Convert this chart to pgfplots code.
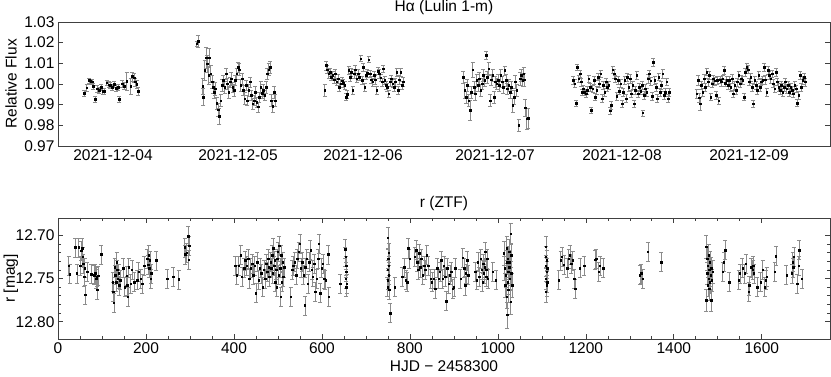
\documentclass[border=0pt]{standalone}
\usepackage{fontspec}
\setmainfont{Liberation Sans}
\usepackage{pgfplots}
\pgfplotsset{compat=1.18}
\usepackage{pgfplotstable}

% H-alpha, Lulin 1-m: x is a compressed time coordinate (one block per night)
\pgfplotstableread{
x y e
72 0.9956 0.0013
80 0.9982 0.0015
88 1.0018 0.0012
92 1.0013 0.0012
96 1.0010 0.0013
100 0.9990 0.0015
106 0.9927 0.0013
112 0.9977 0.0016
118 0.9970 0.0015
124 0.9985 0.0016
128 0.9966 0.0014
132 0.9965 0.0016
140 1.0006 0.0013
146 0.9997 0.0014
150 0.9994 0.0014
156 0.9985 0.0016
162 0.9998 0.0015
168 0.9980 0.0017
174 0.9985 0.0015
178 0.9926 0.0013
186 1.0002 0.0016
192 0.9990 0.0017
200 1.0013 0.0045
212 0.9990 0.0040
216 1.0037 0.0022
222 1.0030 0.0020
226 1.0010 0.0019
230 0.9998 0.0020
234 0.9966 0.0020
410 1.0195 0.0010
414 1.0208 0.0028
428 0.9989 0.0040
430 0.9937 0.0040
434 1.0066 0.0050
438 1.0127 0.0050
442 1.0098 0.0040
446 1.0042 0.0045
448 1.0127 0.0045
452 1.0050 0.0040
456 1.0010 0.0030
460 0.9985 0.0030
462 0.9960 0.0028
466 0.9977 0.0030
470 0.9908 0.0030
474 0.9876 0.0030
478 0.9844 0.0040
482 0.9920 0.0030
486 0.9994 0.0028
490 1.0018 0.0025
494 0.9985 0.0028
498 1.0050 0.0025
502 1.0002 0.0028
506 0.9960 0.0028
510 1.0010 0.0025
514 1.0026 0.0030
518 0.9985 0.0025
522 0.9970 0.0028
526 1.0018 0.0025
530 1.0050 0.0028
534 1.0082 0.0025
538 1.0070 0.0030
542 0.9994 0.0030
546 1.0026 0.0025
550 0.9970 0.0025
554 0.9930 0.0028
558 0.9994 0.0025
562 0.9920 0.0025
566 0.9970 0.0028
570 1.0010 0.0025
574 0.9945 0.0025
578 0.9905 0.0025
582 0.9920 0.0025
586 0.9960 0.0028
590 0.9913 0.0025
594 0.9889 0.0025
598 0.9937 0.0025
602 0.9985 0.0028
606 0.9956 0.0025
610 0.9970 0.0028
614 0.9945 0.0025
618 0.9985 0.0028
622 1.0050 0.0028
626 1.0070 0.0030
630 1.0082 0.0030
634 0.9920 0.0030
638 0.9892 0.0030
642 0.9960 0.0030
646 0.9920 0.0030
794 0.9969 0.0030
798 1.0090 0.0022
802 1.0070 0.0020
806 1.0050 0.0020
810 1.0058 0.0020
814 1.0034 0.0018
818 1.0042 0.0020
822 1.0021 0.0018
826 1.0050 0.0020
830 1.0010 0.0018
834 1.0026 0.0020
838 0.9985 0.0018
842 1.0002 0.0020
846 1.0015 0.0018
850 1.0005 0.0020
854 0.9994 0.0018
858 0.9937 0.0018
862 0.9950 0.0020
866 1.0066 0.0020
870 1.0034 0.0020
874 1.0058 0.0020
878 0.9970 0.0018
882 1.0050 0.0020
886 1.0070 0.0020
890 1.0026 0.0018
894 1.0050 0.0020
898 1.0034 0.0018
902 1.0123 0.0015
906 1.0018 0.0018
910 1.0082 0.0020
914 0.9985 0.0018
918 1.0042 0.0020
922 1.0053 0.0018
926 1.0118 0.0015
930 1.0050 0.0018
934 1.0021 0.0018
938 1.0010 0.0020
942 1.0042 0.0018
946 1.0021 0.0020
950 0.9970 0.0018
954 1.0063 0.0018
958 1.0050 0.0020
962 1.0030 0.0018
966 1.0010 0.0020
970 1.0074 0.0015
974 1.0018 0.0018
978 0.9994 0.0020
982 0.9985 0.0018
986 0.9953 0.0018
990 1.0010 0.0020
994 1.0026 0.0018
998 1.0002 0.0020
1002 0.9985 0.0018
1006 1.0010 0.0020
1010 1.0058 0.0020
1014 0.9970 0.0018
1018 1.0021 0.0020
1022 1.0058 0.0020
1026 0.9994 0.0020
1030 1.0010 0.0022
1210 1.0034 0.0030
1214 0.9970 0.0040
1218 0.9937 0.0030
1222 0.9994 0.0030
1226 0.9920 0.0030
1230 0.9873 0.0050
1234 0.9960 0.0030
1238 1.0070 0.0035
1242 0.9985 0.0030
1246 0.9953 0.0030
1250 1.0018 0.0030
1254 0.9994 0.0028
1258 1.0026 0.0030
1262 0.9970 0.0030
1266 1.0002 0.0028
1270 1.0042 0.0030
1274 1.0018 0.0028
1278 1.0139 0.0020
1282 1.0034 0.0028
1286 1.0074 0.0030
1290 0.9920 0.0030
1294 1.0021 0.0028
1298 1.0042 0.0030
1302 0.9937 0.0030
1306 1.0010 0.0028
1310 1.0002 0.0028
1314 1.0018 0.0028
1318 0.9994 0.0030
1322 1.0042 0.0028
1326 1.0010 0.0028
1330 0.9985 0.0030
1334 1.0066 0.0022
1338 1.0018 0.0028
1342 0.9977 0.0028
1346 0.9994 0.0030
1350 0.9960 0.0030
1354 0.9985 0.0030
1358 0.9897 0.0035
1362 0.9937 0.0035
1366 1.0010 0.0030
1370 0.9970 0.0030
1376 0.9800 0.0030
1380 1.0026 0.0030
1384 1.0042 0.0030
1388 1.0018 0.0030
1391 1.0050 0.0030
1393 1.0021 0.0030
1396 0.9886 0.0040
1400 0.9832 0.0050
1404 0.9835 0.0050
1540 1.0018 0.0018
1544 1.0002 0.0020
1548 0.9908 0.0015
1552 1.0082 0.0015
1556 1.0026 0.0018
1560 1.0050 0.0018
1564 1.0010 0.0020
1566 0.9960 0.0015
1570 0.9977 0.0018
1574 0.9960 0.0015
1578 0.9953 0.0015
1582 0.9970 0.0018
1586 1.0026 0.0018
1590 0.9985 0.0020
1594 0.9873 0.0015
1598 0.9977 0.0018
1602 1.0018 0.0020
1606 0.9937 0.0018
1610 0.9970 0.0020
1614 1.0034 0.0018
1618 1.0002 0.0020
1622 1.0050 0.0018
1626 0.9930 0.0018
1630 0.9994 0.0020
1634 0.9960 0.0018
1638 1.0010 0.0020
1642 0.9985 0.0018
1646 0.9994 0.0020
1650 0.9870 0.0018
1654 0.9897 0.0018
1658 1.0070 0.0018
1662 1.0050 0.0020
1666 1.0026 0.0018
1670 0.9940 0.0018
1674 1.0018 0.0020
1678 0.9966 0.0018
1682 1.0002 0.0020
1686 0.9905 0.0018
1690 0.9960 0.0020
1694 1.0018 0.0018
1698 0.9930 0.0018
1702 1.0034 0.0020
1706 0.9985 0.0018
1710 1.0026 0.0020
1714 0.9953 0.0018
1718 0.9994 0.0020
1722 0.9905 0.0018
1726 0.9970 0.0018
1730 1.0042 0.0020
1734 0.9953 0.0018
1738 0.9985 0.0020
1742 0.9966 0.0018
1746 0.9994 0.0020
1748 0.9860 0.0015
1752 0.9945 0.0018
1756 0.9977 0.0020
1760 0.9960 0.0018
1764 1.0026 0.0020
1768 1.0050 0.0018
1772 1.0015 0.0020
1776 0.9940 0.0018
1780 1.0106 0.0018
1784 1.0018 0.0020
1788 0.9985 0.0018
1792 0.9930 0.0020
1796 1.0034 0.0018
1800 0.9960 0.0020
1804 0.9994 0.0018
1808 1.0050 0.0020
1812 0.9945 0.0018
1816 0.9960 0.0020
1820 1.0010 0.0018
1824 0.9930 0.0020
1828 0.9960 0.0018
1910 0.9953 0.0020
1914 1.0018 0.0022
1918 0.9934 0.0020
1920 0.9905 0.0030
1924 0.9994 0.0020
1928 0.9960 0.0020
1932 1.0026 0.0020
1936 0.9985 0.0020
1940 1.0058 0.0018
1944 1.0010 0.0020
1948 1.0042 0.0018
1952 0.9937 0.0018
1956 1.0002 0.0020
1960 1.0026 0.0018
1964 1.0015 0.0020
1968 0.9945 0.0018
1972 1.0018 0.0018
1976 0.9920 0.0018
1980 1.0021 0.0018
1984 1.0010 0.0020
1988 1.0026 0.0018
1992 1.0066 0.0020
1996 1.0005 0.0018
2000 1.0018 0.0020
2004 0.9994 0.0018
2008 1.0018 0.0020
2012 0.9985 0.0018
2016 1.0026 0.0020
2020 0.9953 0.0018
2024 0.9994 0.0020
2028 0.9970 0.0018
2032 1.0010 0.0020
2036 1.0042 0.0018
2040 1.0002 0.0020
2044 1.0026 0.0018
2048 1.0018 0.0020
2052 0.9937 0.0018
2056 1.0058 0.0020
2060 1.0082 0.0018
2064 1.0070 0.0020
2068 1.0010 0.0018
2072 1.0034 0.0020
2076 0.9985 0.0018
2080 0.9905 0.0018
2084 1.0018 0.0020
2088 0.9994 0.0018
2092 0.9970 0.0020
2096 1.0042 0.0018
2100 0.9985 0.0020
2104 1.0010 0.0018
2108 1.0018 0.0020
2112 1.0082 0.0018
2116 1.0021 0.0020
2120 0.9960 0.0018
2124 1.0066 0.0020
2128 1.0042 0.0018
2132 1.0026 0.0020
2136 1.0050 0.0018
2140 1.0002 0.0020
2144 0.9977 0.0018
2148 1.0058 0.0020
2152 1.0010 0.0018
2156 0.9985 0.0020
2160 0.9970 0.0018
2164 0.9994 0.0020
2168 0.9960 0.0018
2172 0.9985 0.0020
2176 1.0010 0.0018
2180 0.9977 0.0020
2184 0.9994 0.0018
2188 0.9960 0.0020
2192 0.9985 0.0018
2196 0.9970 0.0020
2200 0.9953 0.0018
2204 0.9994 0.0020
2208 0.9977 0.0018
2212 0.9908 0.0018
2216 0.9945 0.0020
2220 1.0042 0.0018
2224 0.9985 0.0020
2228 1.0018 0.0018
2232 1.0034 0.0020
2235 1.0010 0.0020
}\halpha

% r band, ZTF: HJD - 2458300, magnitude, error
\pgfplotstableread{
x y e
24 12.735 0.011
26.5 12.745 0.011
39 12.714 0.011
43 12.744 0.011
47 12.714 0.011
50 12.735 0.011
53 12.718 0.011
55 12.715 0.011
56 12.725 0.011
57.6 12.733 0.011
59 12.748 0.011
60.6 12.738 0.011
62 12.769 0.011
66.7 12.742 0.011
75.8 12.745 0.011
82 12.746 0.011
85 12.744 0.011
86.4 12.750 0.011
88 12.748 0.011
89.4 12.763 0.011
91 12.747 0.011
98.5 12.722 0.011
124 12.754 0.011
126 12.765 0.011
127 12.778 0.011
129 12.737 0.011
130 12.746 0.011
132 12.754 0.011
133 12.731 0.011
135 12.740 0.011
136 12.750 0.011
138 12.744 0.011
139.5 12.758 0.011
141 12.752 0.011
148.6 12.738 0.011
151.6 12.760 0.011
156 12.747 0.011
157.7 12.758 0.011
159 12.771 0.011
160.7 12.737 0.011
165 12.756 0.011
168 12.740 0.011
173 12.754 0.011
180 12.752 0.011
183 12.742 0.011
188 12.750 0.011
191 12.756 0.011
195.6 12.735 0.011
203 12.727 0.011
204.7 12.734 0.011
206 12.723 0.011
207.7 12.738 0.011
209 12.729 0.011
210.7 12.750 0.011
212 12.744 0.011
223.6 12.729 0.011
248.6 12.750 0.011
261.5 12.748 0.011
274 12.751 0.011
288 12.714 0.011
289.6 12.722 0.011
292.6 12.720 0.011
295.6 12.701 0.011
297 12.728 0.011
298.7 12.712 0.011
403 12.735 0.011
406 12.746 0.011
410.6 12.735 0.011
415 12.723 0.011
418 12.748 0.011
423 12.738 0.011
426 12.729 0.011
429 12.735 0.011
432 12.727 0.011
435 12.750 0.011
438 12.738 0.011
441 12.733 0.011
444 12.746 0.011
447 12.735 0.011
450 12.767 0.011
453 12.731 0.011
456 12.752 0.011
459 12.738 0.011
462 12.744 0.011
465 12.760 0.011
468 12.740 0.011
471 12.750 0.011
473 12.733 0.011
476 12.742 0.011
477.3 12.727 0.011
479 12.737 0.011
480.4 12.748 0.011
483.4 12.731 0.011
485 12.738 0.011
486.4 12.723 0.011
488 12.744 0.011
489.5 12.715 0.011
491 12.735 0.011
492.5 12.729 0.011
494 12.754 0.011
495.5 12.740 0.011
497 12.760 0.011
498.6 12.727 0.011
500 12.719 0.011
501.6 12.746 0.011
503 12.712 0.011
504.6 12.738 0.011
506 12.771 0.011
507.6 12.723 0.011
509 12.754 0.011
510.7 12.731 0.011
512 12.748 0.011
513.7 12.737 0.011
529 12.771 0.011
532 12.740 0.011
535 12.735 0.011
538 12.731 0.011
541 12.746 0.011
544 12.727 0.011
547 12.719 0.011
550 12.710 0.011
552 12.738 0.011
555 12.731 0.011
558 12.746 0.011
561 12.781 0.011
562 12.737 0.011
565 12.727 0.011
568 12.756 0.011
571 12.731 0.011
574 12.717 0.011
577 12.740 0.011
579 12.748 0.011
582 12.733 0.011
585 12.765 0.011
588 12.750 0.011
591 12.727 0.011
593 12.710 0.011
596 12.767 0.011
599 12.738 0.011
602 12.733 0.011
605 12.750 0.011
608 12.752 0.011
614 12.722 0.011
615 12.771 0.011
641 12.756 0.011
653 12.716 0.011
653.5 12.725 0.011
655 12.735 0.011
655.5 12.742 0.011
654.5 12.750 0.011
656 12.756 0.011
655 12.760 0.011
750 12.703 0.012
750.5 12.727 0.011
752 12.735 0.011
750 12.740 0.011
752 12.746 0.011
750 12.752 0.011
749 12.760 0.011
753 12.763 0.011
752 12.720 0.011
755 12.790 0.011
765 12.760 0.011
782 12.748 0.011
787 12.737 0.011
791 12.752 0.011
794 12.754 0.011
796 12.715 0.011
799 12.727 0.011
811 12.725 0.011
814 12.717 0.011
817 12.731 0.011
818.5 12.740 0.011
821.5 12.721 0.011
823 12.737 0.011
826 12.727 0.011
829 12.746 0.011
832 12.735 0.011
835 12.740 0.011
838 12.723 0.011
842 12.735 0.011
847 12.750 0.011
850 12.754 0.011
854.6 12.750 0.011
857.6 12.762 0.011
862 12.738 0.011
865 12.750 0.011
868 12.742 0.011
871 12.729 0.011
874 12.750 0.011
877 12.735 0.011
880 12.748 0.011
882 12.776 0.011
885 12.738 0.011
888 12.756 0.011
891 12.746 0.011
894 12.742 0.011
897 12.762 0.011
900 12.760 0.011
903 12.738 0.011
915 12.750 0.011
920 12.726 0.011
923 12.738 0.011
926 12.758 0.011
927 12.744 0.011
930 12.729 0.011
933 12.746 0.011
948.5 12.742 0.011
951.6 12.752 0.011
954.6 12.731 0.011
958 12.748 0.011
961 12.727 0.011
963.7 12.740 0.011
965 12.754 0.011
966.7 12.733 0.011
968 12.744 0.011
970 12.737 0.011
971 12.719 0.011
973 12.748 0.011
974 12.740 0.011
976 12.727 0.011
977 12.750 0.011
988 12.742 0.011
995.5 12.752 0.011
1013.7 12.721 0.014
1015 12.738 0.014
1016.8 12.758 0.014
1018 12.746 0.014
1020 12.715 0.014
1020 12.771 0.014
1021 12.731 0.014
1021 12.792 0.015
1022.8 12.754 0.014
1022.8 12.727 0.014
1024 12.742 0.014
1024 12.763 0.014
1025.9 12.719 0.014
1025.9 12.737 0.014
1027 12.750 0.014
1027 12.731 0.014
1028.9 12.698 0.012
1028.9 12.777 0.014
1030 12.723 0.014
1030 12.744 0.014
1032 12.758 0.014
1109 12.713 0.012
1109 12.725 0.012
1109 12.735 0.012
1110.8 12.742 0.012
1109 12.750 0.012
1110.8 12.758 0.012
1109 12.765 0.012
1110.8 12.729 0.012
1112 12.738 0.012
1112 12.754 0.012
1138 12.752 0.011
1142.6 12.729 0.011
1145.6 12.725 0.011
1150 12.734 0.011
1157.8 12.738 0.011
1160.8 12.727 0.011
1163.8 12.723 0.011
1167 12.733 0.011
1170 12.729 0.011
1173 12.750 0.011
1176 12.762 0.011
1186.5 12.738 0.011
1195.7 12.735 0.011
1221 12.728 0.011
1223 12.727 0.011
1229 12.742 0.011
1232 12.735 0.011
1239.6 12.738 0.011
1322.7 12.746 0.011
1325.7 12.744 0.011
1328.8 12.750 0.011
1341 12.719 0.011
1371 12.731 0.011
1474 12.713 0.013
1474 12.775 0.013
1475.8 12.727 0.013
1475.8 12.744 0.013
1477.3 12.735 0.013
1477.3 12.758 0.013
1478.8 12.750 0.013
1478.8 12.723 0.013
1480 12.740 0.013
1480 12.762 0.013
1481.9 12.731 0.013
1481.9 12.754 0.013
1483.4 12.746 0.013
1485 12.775 0.013
1485 12.738 0.013
1486.4 12.752 0.013
1488 12.742 0.013
1510.7 12.742 0.011
1513.7 12.731 0.011
1516.7 12.717 0.011
1525.8 12.754 0.011
1547 12.752 0.011
1550 12.744 0.011
1556 12.738 0.011
1560.7 12.744 0.011
1563.7 12.733 0.011
1569.8 12.765 0.011
1571.3 12.758 0.011
1576 12.737 0.011
1579 12.740 0.011
1580.4 12.735 0.011
1582 12.744 0.011
1589.5 12.760 0.011
1597 12.754 0.011
1601.6 12.740 0.011
1606.2 12.760 0.011
1609.2 12.752 0.011
1610.7 12.748 0.011
1629 12.742 0.011
1632 12.724 0.011
1656 12.746 0.011
1668.3 12.744 0.011
1669.9 12.731 0.011
1671.4 12.737 0.011
1673 12.725 0.011
1680.5 12.756 0.011
1683.5 12.735 0.011
1685 12.717 0.011
1691 12.750 0.011
}\ztf

\pgfplotsset{
  lc/.style={
    scale only axis, width=772pt,
    axis line style={black!75, line width=0.9pt},
    tick style={black!75, line width=0.7pt},
    tick align=inside,
    major tick length=5pt, minor tick length=3pt,
    ticklabel style={font=\fontsize{15.5}{18}\selectfont},
    label style={font=\fontsize{15.5}{18}\selectfont},
    ylabel style={at={(axis description cs:-0.0609,0.5)}, anchor=center},
    title style={font=\fontsize{15.5}{18}\selectfont, yshift=-2pt},
    /pgf/number format/assume math mode=true,
    yticklabel style={/pgf/number format/.cd, fixed, fixed zerofill, precision=2},
  },
  pts/.style={only marks, mark=square*, mark size=0.75pt,
    mark options={draw=black, fill=black},
    error bars/y dir=both, error bars/y explicit,
    error bars/error bar style={black!45, line width=0.5pt},
    error bars/error mark options={black!45, mark size=2pt, line width=0.5pt, rotate=90}},
}

\begin{document}
\begin{tikzpicture}
\path[use as bounding box] (-58pt,-38pt) rectangle (773pt,339pt);

\begin{axis}[lc, at={(0pt,193pt)}, anchor=south west, height=124pt,
  xmin=-6, xmax=2310, ymin=0.97, ymax=1.03,
  xtick={159,534,909,1305,1686,2067},
  xticklabels={2021-12-04,2021-12-05,2021-12-06,2021-12-07,2021-12-08,2021-12-09},
  major x tick style={draw=none},
  ytick={0.97,0.98,0.99,1.00,1.01,1.02,1.03},
  ylabel={Relative Flux},
  title={Hα (Lulin 1-m)},
]
\addplot[pts] table[x=x, y=y, y error=e] {\halpha};
\end{axis}

\begin{axis}[lc, at={(0pt,0pt)}, anchor=south west, height=121pt,
  xmin=0, xmax=1755, ymin=12.68, ymax=12.82, y dir=reverse,
  xtick={0,200,...,1600}, minor x tick num=3,
  ytick={12.70,12.75,12.80}, minor y tick num=4,
  xticklabel style={/pgf/number format/.cd, set thousands separator={}},
  xlabel={HJD − 2458300},
  ylabel={r [mag]},
  title={r (ZTF)},
]
\addplot[pts] table[x=x, y=y, y error=e] {\ztf};
\end{axis}
\end{tikzpicture}
\end{document}
